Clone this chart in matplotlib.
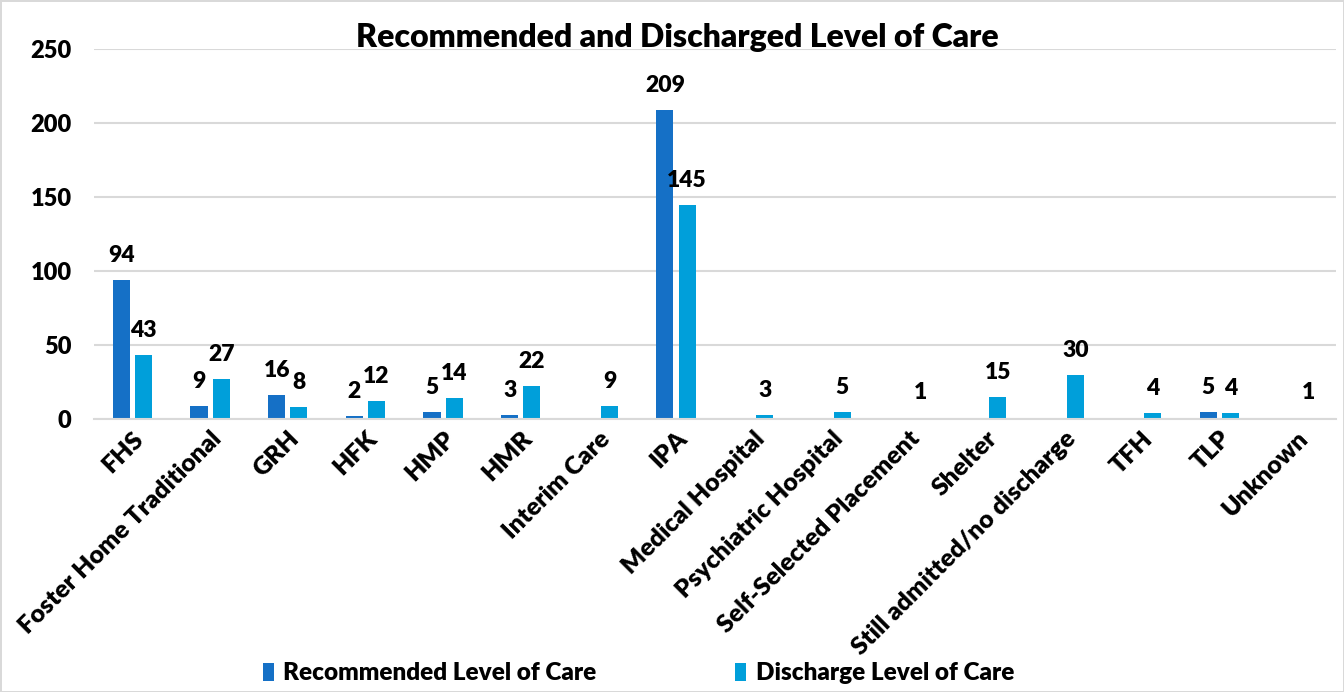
import matplotlib

matplotlib.use("Agg")
import matplotlib.pyplot as plt
import numpy as np

plt.rcParams["font.family"] = ["Lato", "DejaVu Sans"]
plt.rcParams["font.weight"] = "heavy"

categories = [
    "FHS", "Foster Home Traditional", "GRH", "HFK", "HMP", "HMR",
    "Interim Care", "IPA", "Medical Hospital", "Psychiatric Hospital",
    "Self-Selected Placement", "Shelter", "Still admitted/no discharge",
    "TFH", "TLP", "Unknown",
]
recommended = [94, 9, 16, 2, 5, 3, 0, 209, 0, 0, 0, 0, 0, 0, 5, 0]
discharged = [43, 27, 8, 12, 14, 22, 9, 145, 3, 5, 1, 15, 30, 4, 4, 1]
y_ticks = [0, 50, 100, 150, 200, 250]

REC_COLOR = "#1570C6"
DIS_COLOR = "#009FDA"
GRID_COLOR = "#D9D9D9"
WEIGHT = "heavy"

fig = plt.figure(figsize=(13.44, 6.92), dpi=100)
fig.patch.set_edgecolor(GRID_COLOR)
fig.patch.set_linewidth(2)
ax = fig.add_axes([0.0697, 0.3945, 0.9243, 0.5343])

x = np.arange(len(categories))
width = 0.22
offset = 0.143
bars_rec = ax.bar(x - offset, recommended, width, color=REC_COLOR,
                  label="Recommended Level of Care")
bars_dis = ax.bar(x + offset, discharged, width, color=DIS_COLOR,
                  label="Discharge Level of Care")

# value labels above each non-zero bar
for bars, values in ((bars_rec, recommended), (bars_dis, discharged)):
    for bar, v in zip(bars, values):
        if v == 0:
            continue
        ax.annotate(str(v), (bar.get_x() + bar.get_width() / 2, v),
                    xytext=(0, 13), textcoords="offset points",
                    ha="center", va="baseline", fontsize=16.5,
                    fontweight=WEIGHT)

ax.set_xlim(-0.5, len(categories) - 0.5)
ax.set_ylim(0, 250)
ax.set_yticks(y_ticks)
ax.tick_params(axis="y", length=0, pad=16, labelsize=17)
ax.tick_params(axis="x", length=0, pad=6, labelsize=18)
ax.set_xticks(x)
ax.set_xticklabels(categories, rotation=45, ha="right", rotation_mode="anchor")
for lbl in ax.get_yticklabels() + ax.get_xticklabels():
    lbl.set_fontweight(WEIGHT)

ax.grid(True, axis="y", color=GRID_COLOR, linewidth=1.5)
ax.set_axisbelow(True)
for side in ("left", "right", "top"):
    ax.spines[side].set_visible(False)
ax.spines["bottom"].set_color(GRID_COLOR)
ax.spines["bottom"].set_linewidth(1.5)

fig.text(0.504, 0.946, "Recommended and Discharged Level of Care",
         ha="center", va="center", fontsize=23, fontweight=WEIGHT)

fig.legend(handles=[bars_rec, bars_dis], loc="center",
           bbox_to_anchor=(0.475, 0.027), ncol=2, frameon=False,
           prop={"size": 17.5, "weight": WEIGHT}, handlelength=0.45,
           handleheight=0.8, handletextpad=0.4, columnspacing=5.7)

fig.savefig("out.png", dpi=100, edgecolor=fig.get_edgecolor())
